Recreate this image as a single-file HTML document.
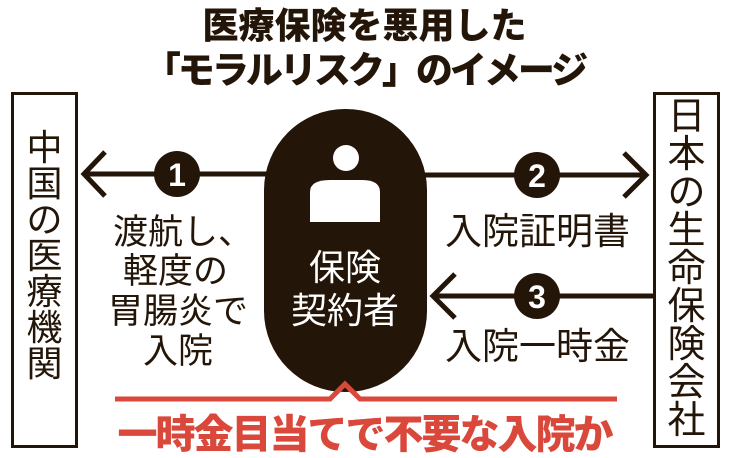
<!DOCTYPE html>
<html><head><meta charset="utf-8"><style>
body{margin:0;width:729px;height:458px;background:#fff;overflow:hidden;position:relative;font-family:"Liberation Sans","Noto Sans CJK JP",sans-serif;color:#231508}
.t{position:absolute;white-space:nowrap;line-height:1}
.box{position:absolute;border:3px solid #231508;box-sizing:border-box}
.v{position:absolute;line-height:1;text-align:center}
.v span{display:block}
</style></head><body>
<div class="t" style="left:0;width:729px;text-align:center;top:8px;font-size:36px;font-weight:900">医療保険を悪用した</div>
<div class="t" style="left:0;width:729px;text-align:center;top:52px;font-size:37px;font-weight:900;letter-spacing:-3px">「モラルリスク」のイメージ</div>
<div class="box" style="left:11px;top:92px;width:67px;height:356px"></div>
<div class="box" style="left:653px;top:92px;width:67px;height:356px"></div>
<div class="v" style="left:11px;width:67px;top:130px;font-size:36px"><span>中</span><span>国</span><span>の</span><span>医</span><span>療</span><span>機</span><span>関</span></div>
<div class="v" style="left:653px;width:67px;top:98px;font-size:38px"><span>日</span><span>本</span><span>の</span><span>生</span><span>命</span><span>保</span><span>険</span><span>会</span><span>社</span></div>
<svg width="729" height="458" style="position:absolute;left:0;top:0">
<g stroke="#231508" stroke-width="5" fill="none">
<line x1="84" y1="174" x2="270" y2="174"/>
<polyline points="105,152 84,174 105,196"/>
<line x1="420" y1="175" x2="645" y2="175"/>
<polyline points="624,153 646,175 624,197"/>
<line x1="434" y1="296" x2="653" y2="296"/>
<polyline points="455,274 433,296 455,318"/>
</g>
<rect x="264" y="109" width="163" height="283" rx="81" fill="#231508"/>
<circle cx="346" cy="158" r="13" fill="#fff"/>
<path d="M310 222 V192 Q310 180 330 180 H362 Q380 180 380 192 V222 Z" fill="#fff"/>
<g fill="#231508"><circle cx="177" cy="174" r="23"/><circle cx="537" cy="175" r="23"/><circle cx="537" cy="296" r="23"/></g>
<g fill="#fff" font-family="Liberation Sans" font-weight="bold" font-size="32" text-anchor="middle">
<text x="177" y="186">1</text><text x="537" y="187">2</text><text x="537" y="308">3</text></g>
<polyline points="115,399 330,399 345,384 360,399 617,399" stroke="#d9483b" stroke-width="5" fill="none"/>
</svg>
<div class="t" style="left:113px;top:215px;font-size:35px">渡航し、</div>
<div class="t" style="left:123px;top:254px;font-size:35px">軽度の</div>
<div class="t" style="left:108px;top:294px;font-size:35px">胃腸炎で</div>
<div class="t" style="left:143px;top:334px;font-size:35px">入院</div>
<div class="t" style="left:309px;top:250px;font-size:36px;color:#fff">保険</div>
<div class="t" style="left:291px;top:293px;font-size:36px;color:#fff">契約者</div>
<div class="t" style="left:445px;top:213px;font-size:37px">入院証明書</div>
<div class="t" style="left:445px;top:328px;font-size:37px">入院一時金</div>
<div class="t" style="left:0;width:729px;text-align:center;top:415px;font-size:40px;font-weight:900;color:#d9483b;letter-spacing:-2px">一時金目当てで不要な入院か</div>
</body></html>
